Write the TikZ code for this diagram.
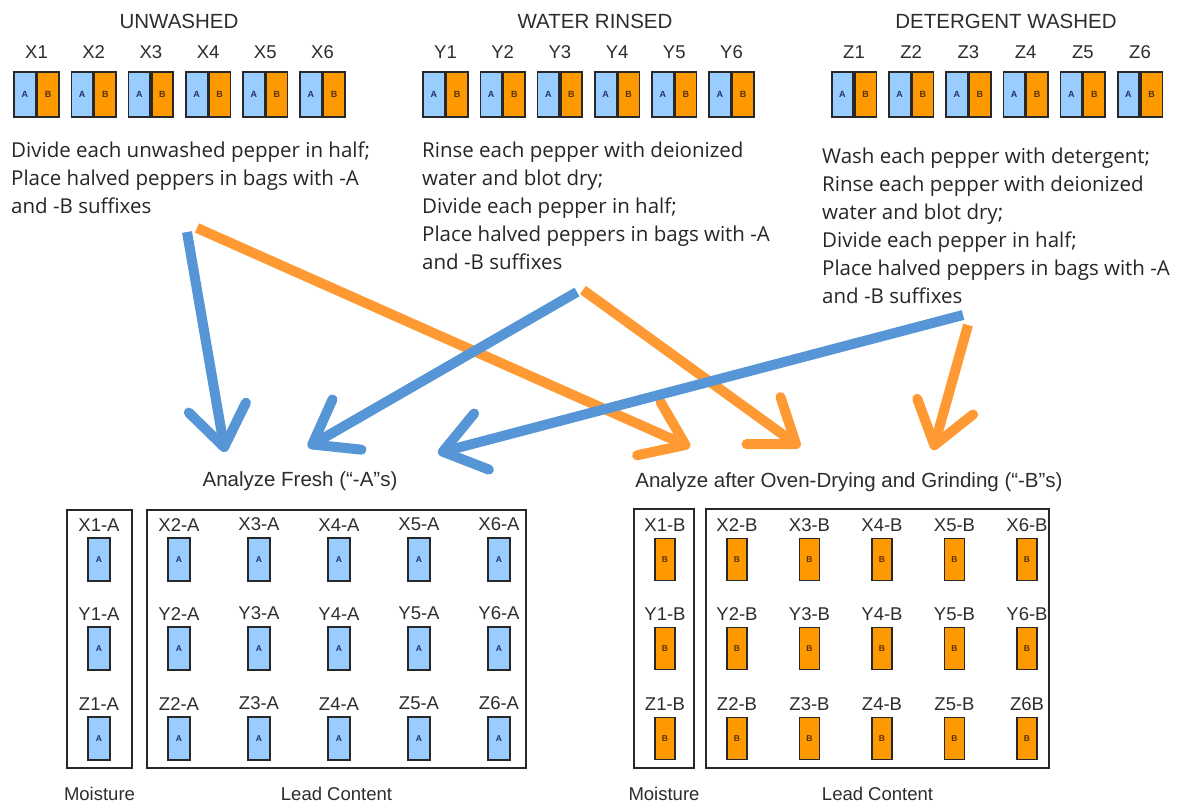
\documentclass[tikz,border=0pt]{standalone}
\usepackage{fontspec}
\setmainfont{Liberation Sans}
\newfontfamily\stepfont{Open Sans}
\usepackage{tikz}
\usetikzlibrary{arrows.meta, positioning}
\definecolor{bagblue}{RGB}{153,204,255}
\definecolor{bagorange}{RGB}{255,153,0}
\definecolor{arrblue}{RGB}{86,150,214}
\definecolor{arrorange}{RGB}{255,153,51}
\definecolor{edgegray}{RGB}{40,40,40}
\definecolor{txtgray}{RGB}{45,45,45}
\definecolor{letterblue}{RGB}{30,50,100}
\definecolor{letterbrown}{RGB}{90,50,10}
\tikzset{
  halfA/.style={rectangle, draw=edgegray, fill=bagblue, text=letterblue,
    minimum width=21.5pt, minimum height=45pt, inner sep=0pt,
    font=\fontsize{9}{9}\selectfont\bfseries, line width=1.6pt},
  halfB/.style={halfA, fill=bagorange, text=letterbrown},
  vialA/.style={rectangle, draw=edgegray, fill=bagblue, text=letterblue,
    minimum width=22pt, minimum height=43pt, inner sep=0pt,
    font=\fontsize{8.5}{8.5}\selectfont\bfseries, line width=1.5pt},
  vialB/.style={vialA, fill=bagorange, text=letterbrown,
    minimum width=20pt, minimum height=42pt},
  panel/.style={rectangle, draw=edgegray, line width=1.4pt, inner sep=0pt},
  grptitle/.style={font=\fontsize{20.5}{20.5}\selectfont, text=txtgray},
  lbl/.style={font=\fontsize{18.5}{18.5}\selectfont, text=txtgray, inner sep=2pt},
  stepsnote/.style={anchor=north west, inner sep=0pt, align=left,
    font=\stepfont\fontsize{20.5}{28}\selectfont, text=black!85},
  bluearrow/.style={-{Straight Barb[length=40pt, width=58pt, round]},
    line width=10pt, arrblue},
  orangearrow/.style={-{Straight Barb[length=40pt, width=58pt, round]},
    line width=10pt, arrorange}
}

\begin{document}
\begin{tikzpicture}[x=1pt, y=-1pt]
  \useasboundingbox[fill=white] (0,0) rectangle (1178,805);

  % Pepper groups
  \node[grptitle] (unwashed) at (179,21) {UNWASHED};
  \node[grptitle] (rinsed) at (595,21) {WATER RINSED};
  \node[grptitle] (detergent) at (1006,21) {DETERGENT WASHED};
  \foreach \g/\x in {X/36.5, Y/445.5, Z/854} {
    \foreach \i in {1,...,6} {
      \node[halfA, anchor=east] (\g\i-a) at (\x+57.2*\i-57.2,94.5) {A};
      \node[halfB, right=0pt of \g\i-a] (\g\i-b) {B};
      \node[lbl, above=10pt of \g\i-a.north east] (\g\i-lab) {\g\i};
    }
  }

  % Treatment steps
  \node[stepsnote] (steps-u) at (11,142) {Divide each unwashed pepper in half;\\
    Place halved peppers in bags with -A\\and -B suffixes};
  \node[stepsnote] (steps-r) at (422,142) {Rinse each pepper with deionized\\
    water and blot dry;\\Divide each pepper in half;\\
    Place halved peppers in bags with -A\\and -B suffixes};
  \node[stepsnote] (steps-d) at (822,148) {Wash each pepper with detergent;\\
    Rinse each pepper with deionized\\water and blot dry;\\
    Divide each pepper in half;\\
    Place halved peppers in bags with -A\\and -B suffixes};

  % Analysis titles
  \node[grptitle] (fresh) at (300,481) {Analyze Fresh (“-A”s)};
  \node[grptitle] (oven) at (849,482) {Analyze after Oven-Drying and Grinding (“-B”s)};

  % Frames
  \node[panel, minimum width=65pt, minimum height=258pt] (moist-a) at (99.5,639) {};
  \node[panel, minimum width=379pt, minimum height=258pt] (lead-a) at (336.5,639) {};
  \node[panel, minimum width=60pt, minimum height=259pt] (moist-b) at (664,638.5) {};
  \node[panel, minimum width=343pt, minimum height=259pt] (lead-b) at (877.5,638.5) {};
  \node[lbl, below=16pt of moist-a] (moist-a-lab) {Moisture};
  \node[lbl, below=16pt of lead-a] (lead-a-lab) {Lead Content};
  \node[lbl, below=16pt of moist-b] (moist-b-lab) {Moisture};
  \node[lbl, below=16pt of lead-b] (lead-b-lab) {Lead Content};

  % Fresh halves
  \foreach \r/\y in {X/559.5, Y/648.5, Z/738.5} {
    \node[vialA] (\r1-A) at (99,\y) {A};
    \node[lbl, above=4pt of \r1-A] (\r1-A-lab) {\r1-A};
    \foreach \c in {2,...,6} {
      \node[vialA] (\r\c-A) at (179+80*\c-160,\y) {A};
      \node[lbl, above=4pt of \r\c-A] (\r\c-A-lab) {\r\c-A};
    }
  }

  % Dried halves
  \foreach \r/\y in {X/559.5, Y/648.5, Z/738.5} {
    \node[vialB] (\r1-B) at (665,\y) {B};
    \node[lbl, above=4pt of \r1-B] (\r1-B-lab) {\r1-B};
  }
  \foreach \r/\y/\n in {X/559.5/6, Y/648.5/6, Z/738.5/5} {
    \foreach \c in {2,...,\n} {
      \node[vialB] (\r\c-B) at (737+72.5*\c-145,\y) {B};
      \node[lbl, above=4pt of \r\c-B] (\r\c-B-lab) {\r\c-B};
    }
  }
  \node[vialB] (Z6-B) at (1027,738.5) {B};
  \node[lbl, above=4pt of Z6-B] (Z6-B-lab) {Z6B};

  % Arrow ends
  \coordinate (u-blue) at (187,232);
  \coordinate (u-orange) at (197,228);
  \coordinate (r-blue) at (577,292);
  \coordinate (r-orange) at (583,290);
  \coordinate (d-blue) at (963,315);
  \coordinate (d-orange) at (968,325);
  \coordinate (fresh-l) at (225,452);
  \coordinate (fresh-m) at (308,447);
  \coordinate (fresh-r) at (438,453);
  \coordinate (oven-l) at (690,447);
  \coordinate (oven-m) at (800,447);
  \coordinate (oven-r) at (933,450);

  \draw[orangearrow] (u-orange) -- (oven-l);
  \draw[orangearrow] (r-orange) -- (oven-m);
  \draw[orangearrow] (d-orange) -- (oven-r);
  \draw[bluearrow] (u-blue) -- (fresh-l);
  \draw[bluearrow] (r-blue) -- (fresh-m);
  \draw[bluearrow] (d-blue) -- (fresh-r);
\end{tikzpicture}
\end{document}
